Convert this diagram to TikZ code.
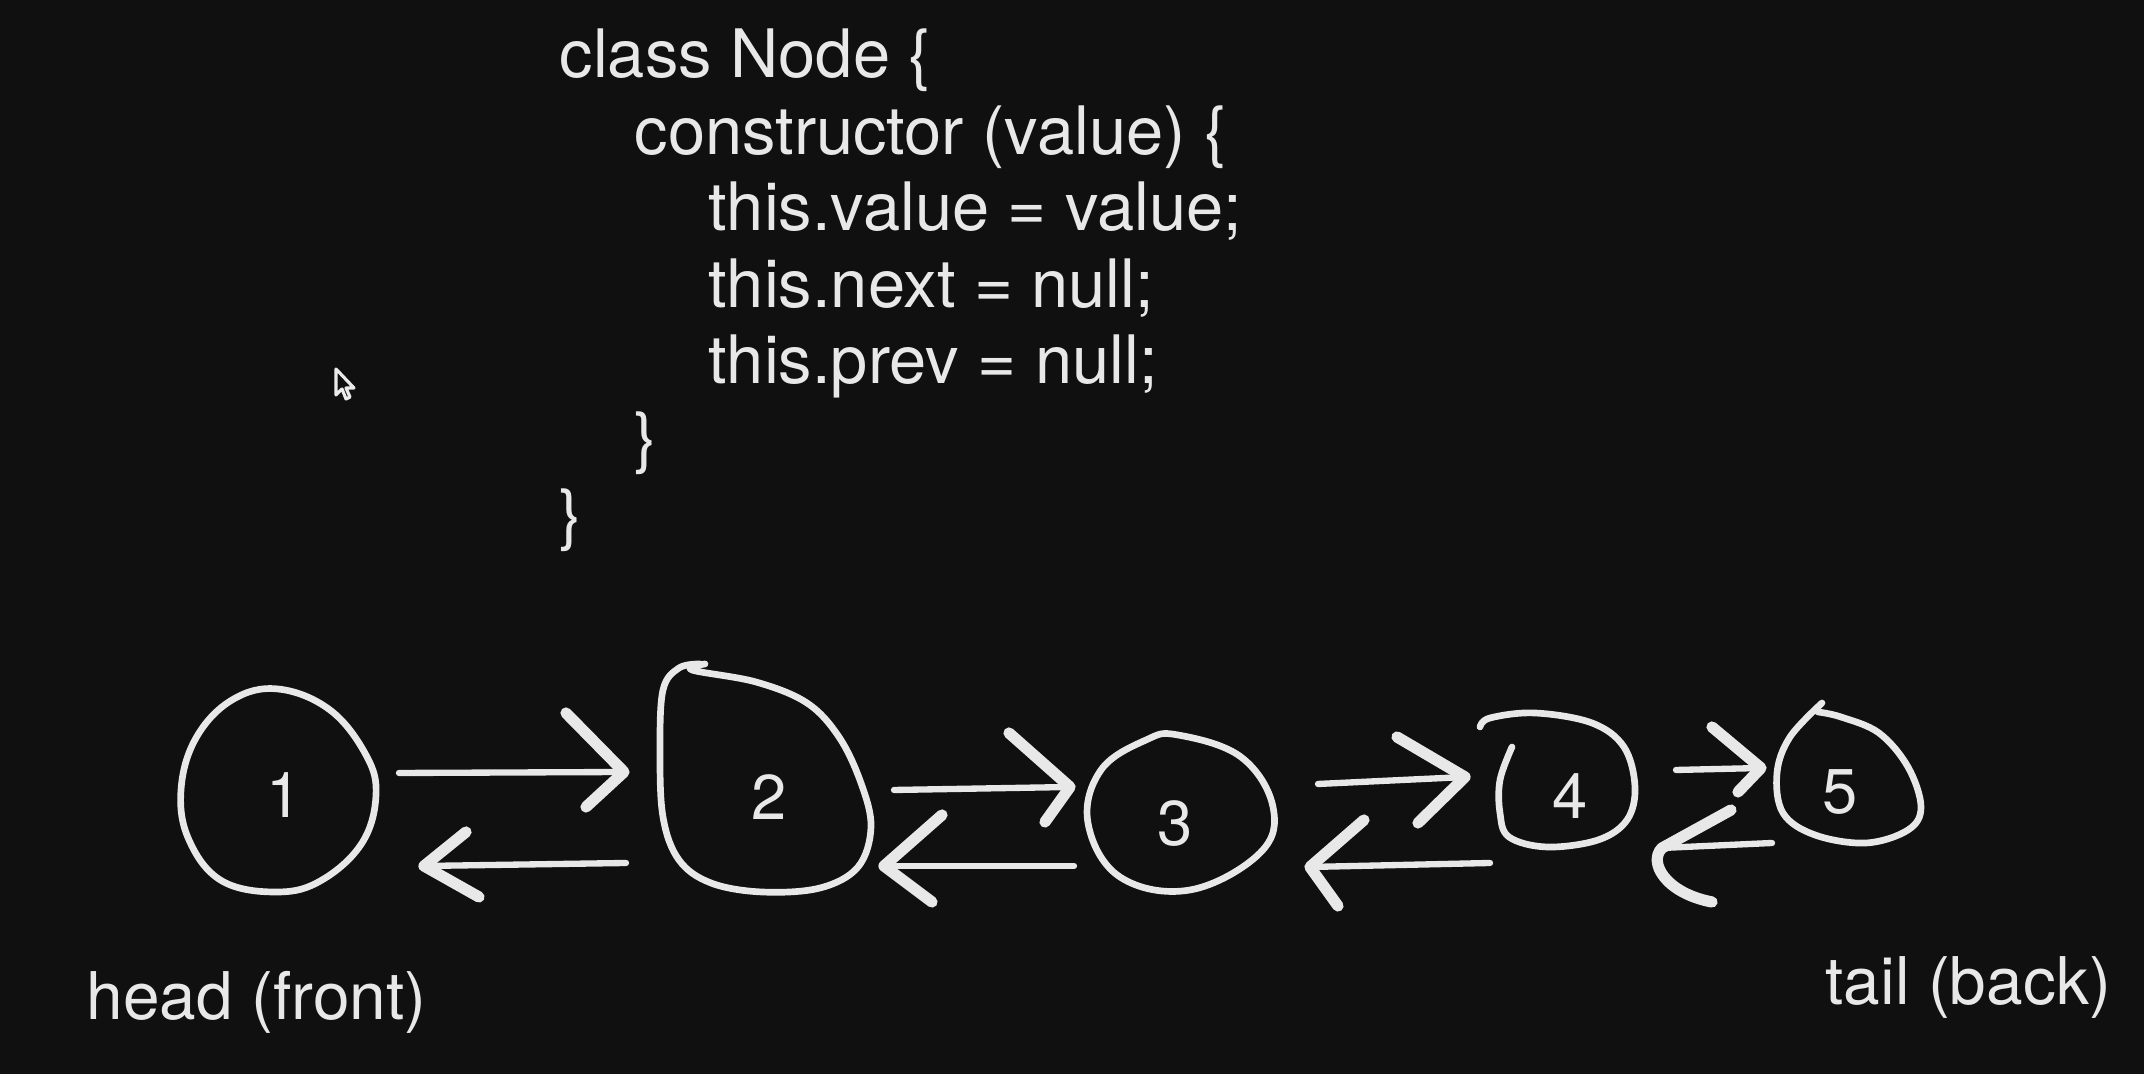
\documentclass[tikz,border=0pt]{standalone}
\usepackage{fontspec}
\setmainfont{TeX Gyre Heros}
\usetikzlibrary{calc}
\definecolor{bg}{HTML}{101010}
\definecolor{ink}{HTML}{E8E8E8}
\begin{document}
\begin{tikzpicture}[x=0.01cm,y=-0.01cm,
  txt/.style={text=ink, inner sep=0pt, font=\fontsize{19}{22}\selectfont, anchor=base west},
  endtxt/.style={text=ink, inner sep=0pt, font=\fontsize{18.7}{22}\selectfont, anchor=base west},
  lbl/.style={text=ink, inner sep=0pt, font=\fontsize{18}{22}\selectfont, anchor=center},
  outline/.style={draw=ink, line width=1.9pt, line cap=round, line join=round},
  shaft/.style={draw=ink, line width=1.8pt, line cap=round},
  barb/.style={draw=ink, line width=3.2pt, line cap=round, line join=round}]
\fill[bg] (0,0) rectangle (2144,1074);
\useasboundingbox (0,0) rectangle (2144,1074);

% code
\node[txt] (c1) at (559,78) {class Node \{};
\node[txt] (c2) at (634,155) {constructor (value) \{};
\node[txt] (c3) at (708,231) {this.value = value;};
\node[txt] (c4) at (708,308) {this.next = null;};
\node[txt] (c5) at (708,384) {this.prev = null;};
\node[txt] (c6) at (634,461) {\}};
\node[txt] (c7) at (559,538) {\}};

% mouse cursor
\draw[draw=ink!85, fill=bg, line width=0.9pt, line join=round]
  (336,369) -- ++(0,26) -- ++(6,-6) -- ++(4,10) -- ++(4,-2) -- ++(-4,-9) -- ++(8,0) -- cycle;

% node outlines
\draw[outline] plot[smooth cycle, tension=0.65] coordinates {
  (278,689) (330,710) (366,755) (376,795) (362,843) (322,880) (278,892)
  (222,881) (189,840) (181,790) (196,738) (232,700)};
\draw[outline] plot[smooth, tension=0.6] coordinates {
  (705,664) (692,670) (756,682) (807,703) (839,737) (861,783) (871,827) (858,867)
  (820,888) (762,892) (711,883) (679,860) (663,817) (660,750) (663,690) (679,668) (700,664)};
\draw[outline] plot[smooth cycle, tension=0.65] coordinates {
  (1178,735) (1241,757) (1273,807) (1260,853) (1190,890) (1120,877)
  (1088,823) (1101,770) (1146,740)};
\draw[outline] plot[smooth, tension=0.6] coordinates {
  (1480,727) (1490,718) (1535,713) (1592,723) (1624,747) (1635,787) (1627,820)
  (1598,840) (1547,847) (1509,837) (1500,813) (1500,780) (1512,747)};
\draw[outline] plot[smooth, tension=0.6] coordinates {
  (1822,703) (1790,737) (1777,773) (1783,813) (1815,835) (1866,843) (1908,830)
  (1921,807) (1908,767) (1879,733) (1841,717) (1818,712)};

% node labels
\node[lbl] (n1) at (284,795) {1};
\node[lbl] (n2) at (769,797) {2};
\node[lbl] (n3) at (1175,824) {3};
\node[lbl] (n4) at (1570,796) {4};
\node[lbl] (n5) at (1840,792) {5};

% arrow end points
\coordinate (a1s) at (399,773);  \coordinate (a1t) at (624,772);
\coordinate (b1s) at (626,863);  \coordinate (b1t) at (424,866);
\coordinate (a2s) at (894,790);  \coordinate (a2t) at (1070,787);
\coordinate (b2s) at (1074,866); \coordinate (b2t) at (884,866);
\coordinate (a3s) at (1318,784); \coordinate (a3t) at (1465,777);
\coordinate (b3s) at (1490,863); \coordinate (b3t) at (1310,867);
\coordinate (a4s) at (1676,770); \coordinate (a4t) at (1761,768);
\coordinate (b4s) at (1772,843); \coordinate (b4t) at (1662,848);

% shafts
\draw[shaft] (a1s) -- (a1t);
\draw[shaft] (b1s) -- (b1t);
\draw[shaft] (a2s) -- (a2t);
\draw[shaft] (b2s) -- (b2t);
\draw[shaft] (a3s) -- (a3t);
\draw[shaft] (b3s) -- (b3t);
\draw[shaft] (a4s) -- (a4t);
\draw[shaft] (b4s) -- (b4t);

% barbs
\draw[barb] (566,713) -- (a1t) -- (586,807);
\draw[barb] (466,832) -- (b1t) -- (479,897);
\draw[barb] (1009,733) -- (a2t) -- (1045,822);
\draw[barb] (942,815) -- (b2t) -- (932,902);
\draw[barb] (1397,737) -- (a3t) -- (1418,823);
\draw[barb] (1364,820) -- (b3t) -- (1338,906);
\draw[barb] (1712,727) -- (a4t) -- (1738,792);
\draw[barb] (1731,810) -- (b4t) .. controls (1648,862) and (1665,893) .. (1712,902);

% end labels
\node[endtxt] (head) at (86,1020) {head (front)};
\node[endtxt] (tail) at (1825,1005) {tail (back)};
\end{tikzpicture}
\end{document}
